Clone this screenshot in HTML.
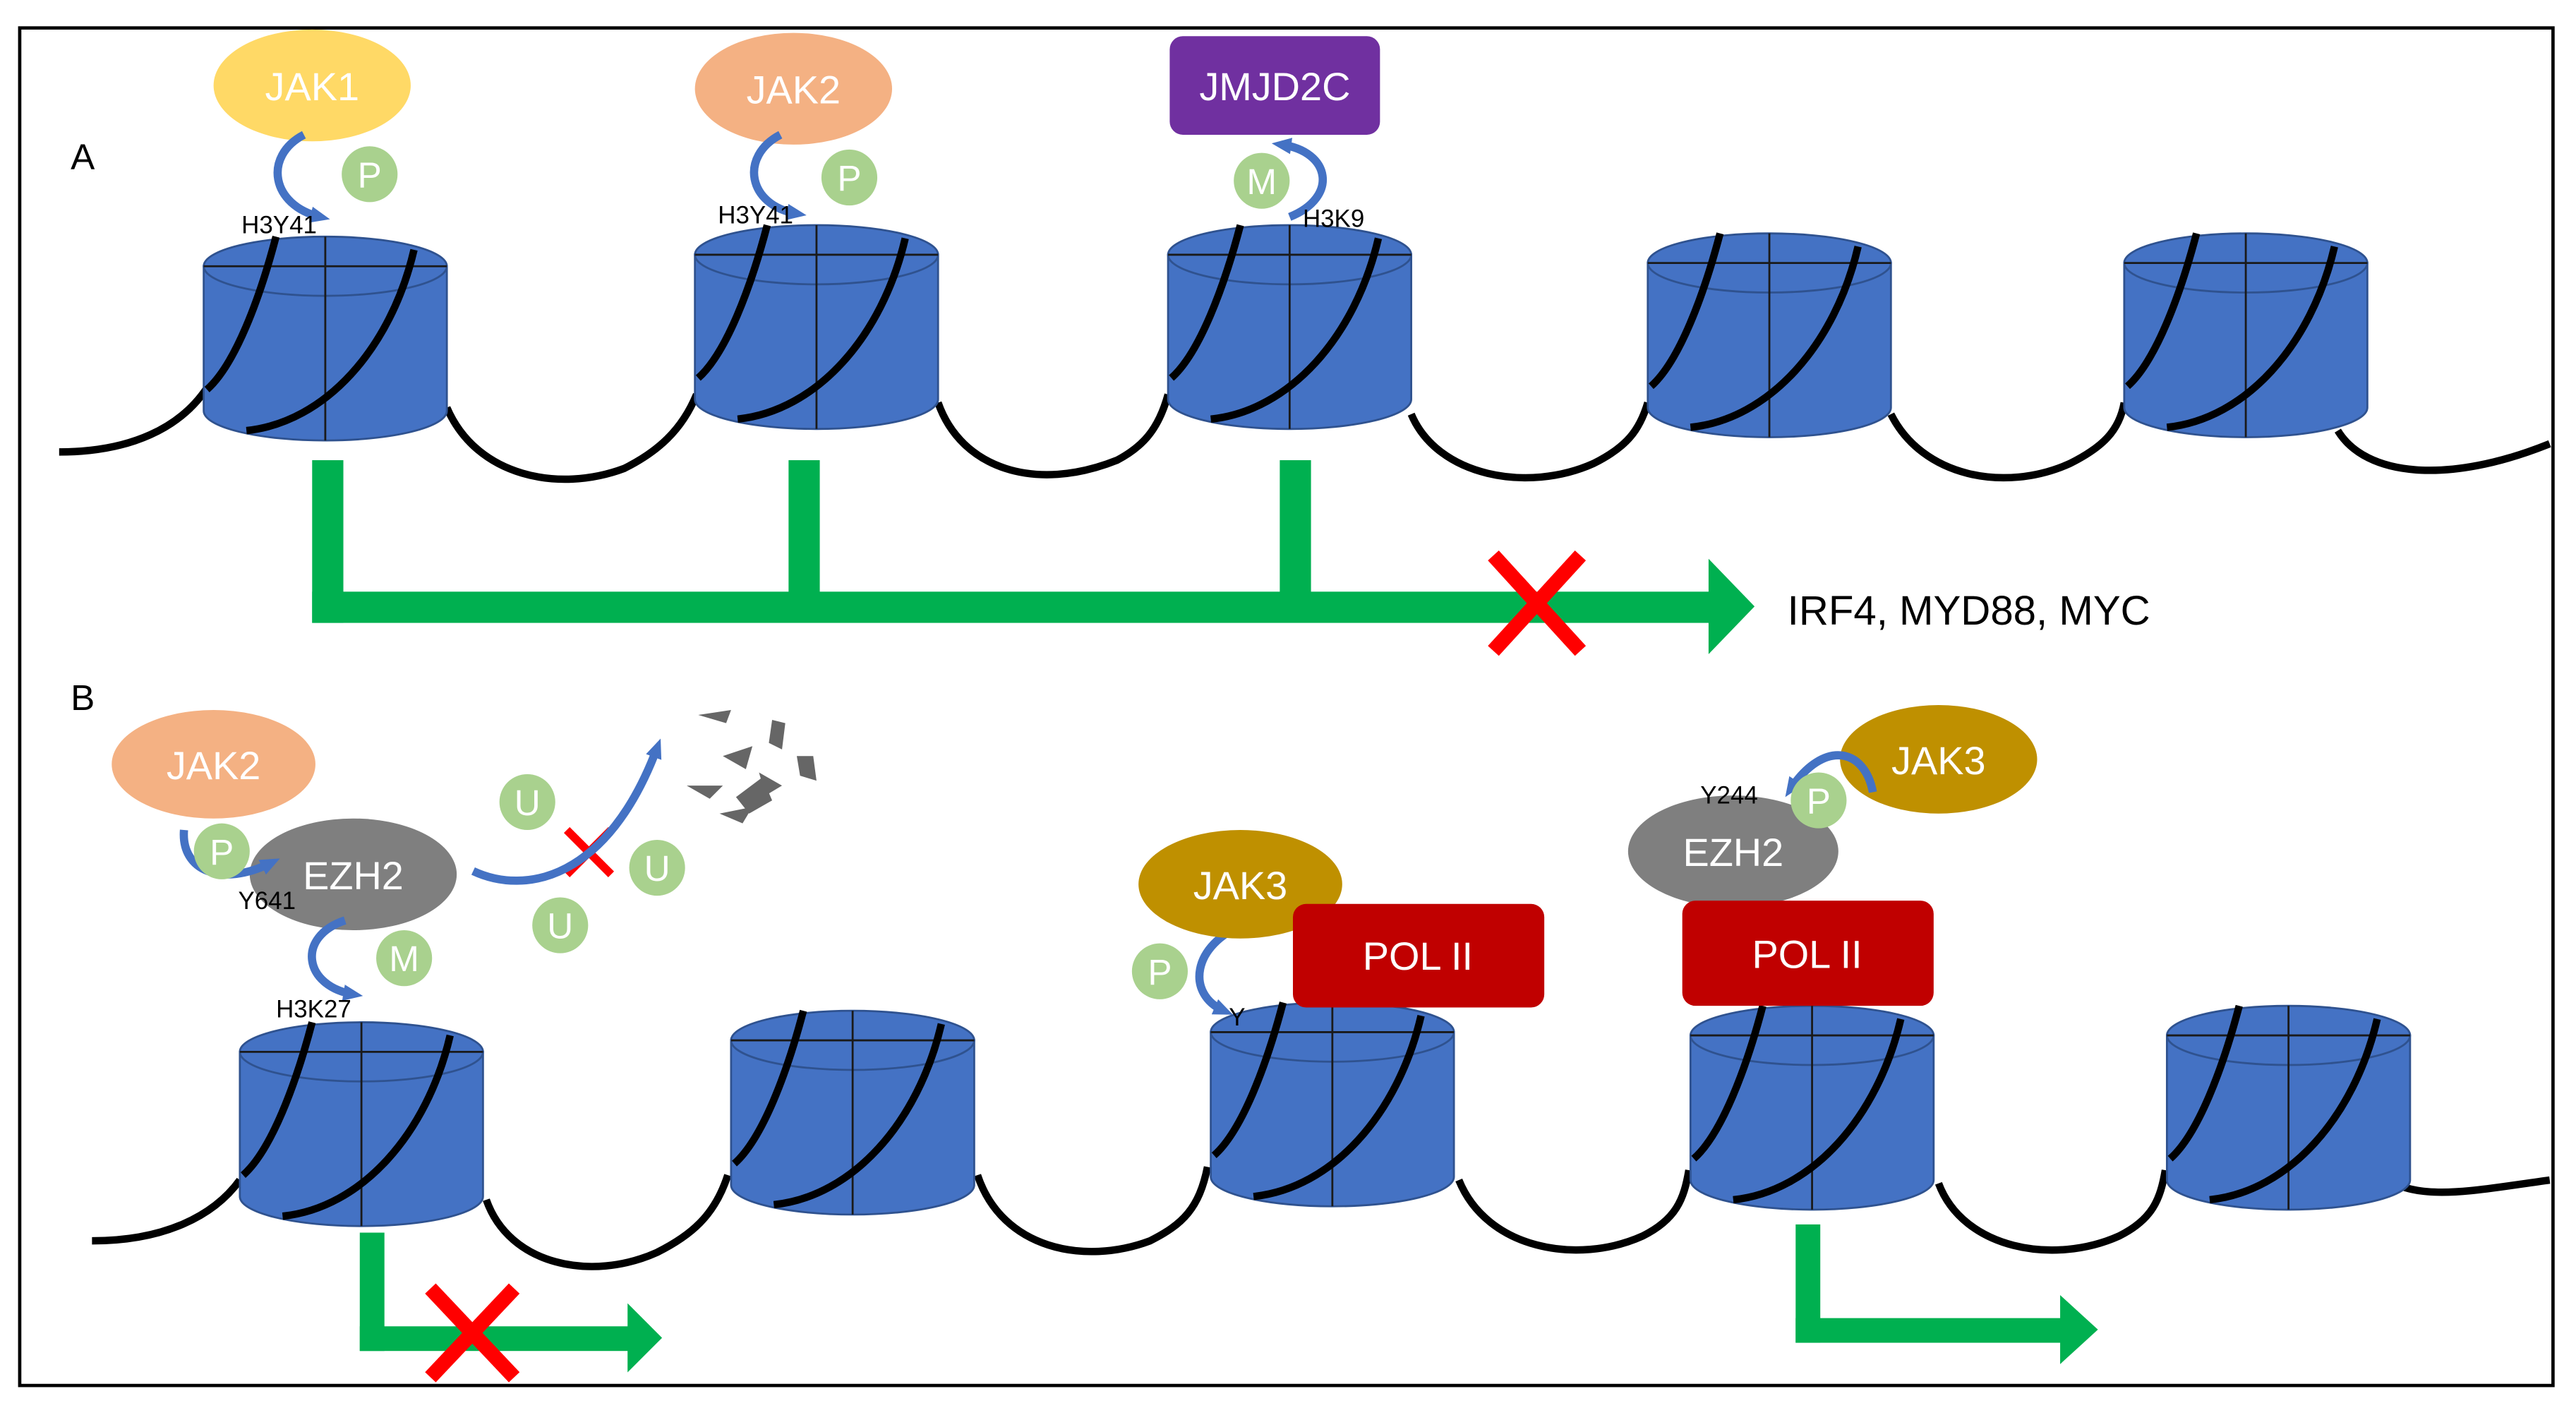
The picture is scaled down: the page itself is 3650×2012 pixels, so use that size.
<!DOCTYPE html>
<html><head><meta charset="utf-8"><style>html,body{margin:0;padding:0;background:#fff}svg{display:block}</style></head>
<body>
<svg width="3650" height="2012" viewBox="0 0 1568 864" preserveAspectRatio="none" xmlns="http://www.w3.org/2000/svg" font-family="Liberation Sans, sans-serif">
<defs>
<g id="nuc">
<path d="M-74,0 L-74,88 A74,18 0 0 0 74,88 L74,0 Z" fill="#4472C4" stroke="#2F528F" stroke-width="1.2"/>
<ellipse cx="0" cy="0" rx="74" ry="18" fill="#4472C4" stroke="#2F528F" stroke-width="1.2"/>
<line x1="0" y1="-18" x2="0" y2="106" stroke="#1a1a1a" stroke-width="1.2"/>
<line x1="-74" y1="0" x2="74" y2="0" stroke="#1a1a1a" stroke-width="1.2"/>
<path d="M-72,75 C-55,60 -40,20 -30,-18" fill="none" stroke="#000" stroke-width="4.5"/>
<path d="M-48,100 C0,95 40,50 54,-10" fill="none" stroke="#000" stroke-width="4.5"/>
</g>
<marker id="ba" markerUnits="userSpaceOnUse" markerWidth="12" markerHeight="12" refX="6" refY="6" orient="auto"><path d="M0,1 L12,6 L0,11 Z" fill="#4472C4"/></marker>
</defs>
<rect x="12" y="17" width="1542" height="826" fill="#fff" stroke="#000" stroke-width="2"/>
<text x="43" y="103" font-size="22">A</text>
<text x="43" y="432" font-size="22">B</text>
<path d="M36,275 C80,275 110,260 126,236 M272,248 C290,290 340,300 380,285 C400,275 415,262 424,240 M571,245 C585,285 630,300 680,280 C695,272 705,262 711,240 M859,252 C875,290 930,300 970,282 C990,272 998,262 1003,245 M1151,252 C1170,290 1220,300 1260,282 C1280,272 1290,262 1293,245 M1423,262 C1440,290 1490,295 1552,270" fill="none" stroke="#000" stroke-width="4.5"/>
<use href="#nuc" x="198" y="162"/>
<use href="#nuc" x="497" y="155"/>
<use href="#nuc" x="785" y="155"/>
<use href="#nuc" x="1077" y="160"/>
<use href="#nuc" x="1367" y="160"/>
<path d="M56,755 C100,755 130,740 146,718 M296,730 C310,770 360,780 400,762 C420,752 435,740 443,715 M595,715 C610,760 660,770 700,755 C720,745 730,735 735,710 M888,718 C905,760 960,770 1000,752 C1020,742 1025,730 1028,712 M1180,720 C1195,760 1250,770 1290,752 C1310,742 1315,730 1318,712 M1440,705 C1460,735 1500,725 1552,718" fill="none" stroke="#000" stroke-width="4.5"/>
<use href="#nuc" x="220" y="640"/>
<use href="#nuc" x="519" y="633"/>
<use href="#nuc" x="811" y="628"/>
<use href="#nuc" x="1103" y="630"/>
<use href="#nuc" x="1393" y="630"/>
<g fill="#00B050">
<rect x="190" y="280" width="19" height="99"/>
<rect x="480" y="280" width="19" height="90"/>
<rect x="779" y="280" width="19" height="90"/>
<rect x="190" y="360" width="852" height="19"/>
<path d="M1040,340 L1068,369 L1040,398 Z"/>
<rect x="219" y="750" width="15" height="72"/>
<rect x="219" y="807" width="165" height="15"/>
<path d="M382,793 L403,814 L382,835 Z"/>
<rect x="1093" y="745" width="15" height="72"/>
<rect x="1093" y="802" width="163" height="15"/>
<path d="M1254,788 L1277,809 L1254,830 Z"/>
</g>
<g stroke="#FF0000" stroke-width="9">
<path d="M909,338 L962,396 M962,338 L909,396"/>
<path d="M262,784 L313,838 M313,784 L262,838"/>
<path d="M345,505 L372,532 M372,505 L345,532" stroke-width="5"/>
</g>
<text x="1088" y="380" font-size="25">IRF4, MYD88, MYC</text>
<ellipse cx="190" cy="52" rx="60" ry="34" fill="#FFD966"/>
<text x="190" y="61" font-size="24" fill="#fff" text-anchor="middle">JAK1</text>
<ellipse cx="483" cy="54" rx="60" ry="34" fill="#F4B183"/>
<text x="483" y="63" font-size="24" fill="#fff" text-anchor="middle">JAK2</text>
<rect x="712" y="22" width="128" height="60" rx="8" fill="#7030A0"/>
<text x="776" y="61" font-size="24" fill="#fff" text-anchor="middle">JMJD2C</text>
<ellipse cx="130" cy="465" rx="62" ry="33" fill="#F4B183"/>
<text x="130" y="474" font-size="24" fill="#fff" text-anchor="middle">JAK2</text>
<ellipse cx="215" cy="532" rx="63" ry="34" fill="#7F7F7F"/>
<text x="215" y="541" font-size="24" fill="#fff" text-anchor="middle">EZH2</text>
<ellipse cx="1180" cy="462" rx="60" ry="33" fill="#BF9000"/>
<text x="1180" y="471" font-size="24" fill="#fff" text-anchor="middle">JAK3</text>
<ellipse cx="1055" cy="518" rx="64" ry="34" fill="#7F7F7F"/>
<text x="1055" y="527" font-size="24" fill="#fff" text-anchor="middle">EZH2</text>
<g fill="none" stroke="#4472C4" stroke-width="5">
<path d="M185,82 C160,95 165,125 195,132" marker-end="url(#ba)"/>
<path d="M475,82 C450,95 455,125 485,130" marker-end="url(#ba)"/>
<path d="M785,132 C815,120 810,92 780,88" marker-end="url(#ba)"/>
<path d="M112,505 C110,530 135,540 165,525" marker-end="url(#ba)"/>
<path d="M210,560 C180,570 185,600 215,605" marker-end="url(#ba)"/>
<path d="M288,530 C320,545 370,535 400,455" marker-end="url(#ba)"/>
<path d="M758,562 C725,575 722,605 745,615" marker-end="url(#ba)"/>
<path d="M1140,482 C1135,455 1110,450 1090,480" marker-end="url(#ba)"/>
</g>
<g fill="#A9D18E">
<circle cx="225" cy="106" r="17"/><circle cx="517" cy="108" r="17"/><circle cx="768" cy="110" r="17"/>
<circle cx="135" cy="518" r="17"/><circle cx="246" cy="583" r="17"/>
<circle cx="321" cy="488" r="17"/><circle cx="400" cy="528" r="17"/><circle cx="341" cy="563" r="17"/>
<circle cx="706" cy="591" r="17"/><circle cx="1107" cy="487" r="17"/>
</g>
<g font-size="22" fill="#fff" text-anchor="middle">
<text x="225" y="114">P</text><text x="517" y="116">P</text><text x="768" y="118">M</text>
<text x="135" y="526">P</text><text x="246" y="591">M</text>
<text x="321" y="496">U</text><text x="400" y="536">U</text><text x="341" y="571">U</text>
<text x="706" y="599">P</text><text x="1107" y="495">P</text>
</g>
<g font-size="15" fill="#000">
<text x="147" y="142">H3Y41</text><text x="437" y="136">H3Y41</text><text x="793" y="138">H3K9</text>
<text x="145" y="553">Y641</text><text x="168" y="619">H3K27</text><text x="748" y="624">Y</text>
<text x="1035" y="489">Y244</text>
</g>
<g fill="#666">
<path d="M425,435 l20,-3 l-3,8 z"/><path d="M470,438 l8,2 l-2,16 l-8,-4 z"/><path d="M440,460 l18,-6 l-4,14 z"/>
<path d="M418,478 l22,0 l-8,8 z"/><path d="M448,485 l16,-12 l6,14 l-14,8 z"/><path d="M485,460 l10,0 l2,15 l-10,-3 z"/>
<path d="M462,470 l14,8 l-10,6 z"/><path d="M438,495 l20,-4 l-6,10 z"/>
</g>
<ellipse cx="755" cy="538" rx="62" ry="33" fill="#BF9000"/>
<text x="755" y="547" font-size="24" fill="#fff" text-anchor="middle">JAK3</text>
<rect x="787" y="550" width="153" height="63" rx="8" fill="#C00000"/>
<text x="863" y="590" font-size="24" fill="#fff" text-anchor="middle">POL II</text>
<rect x="1024" y="548" width="153" height="64" rx="8" fill="#C00000"/>
<text x="1100" y="589" font-size="24" fill="#fff" text-anchor="middle">POL II</text>
</svg>
</body></html>
